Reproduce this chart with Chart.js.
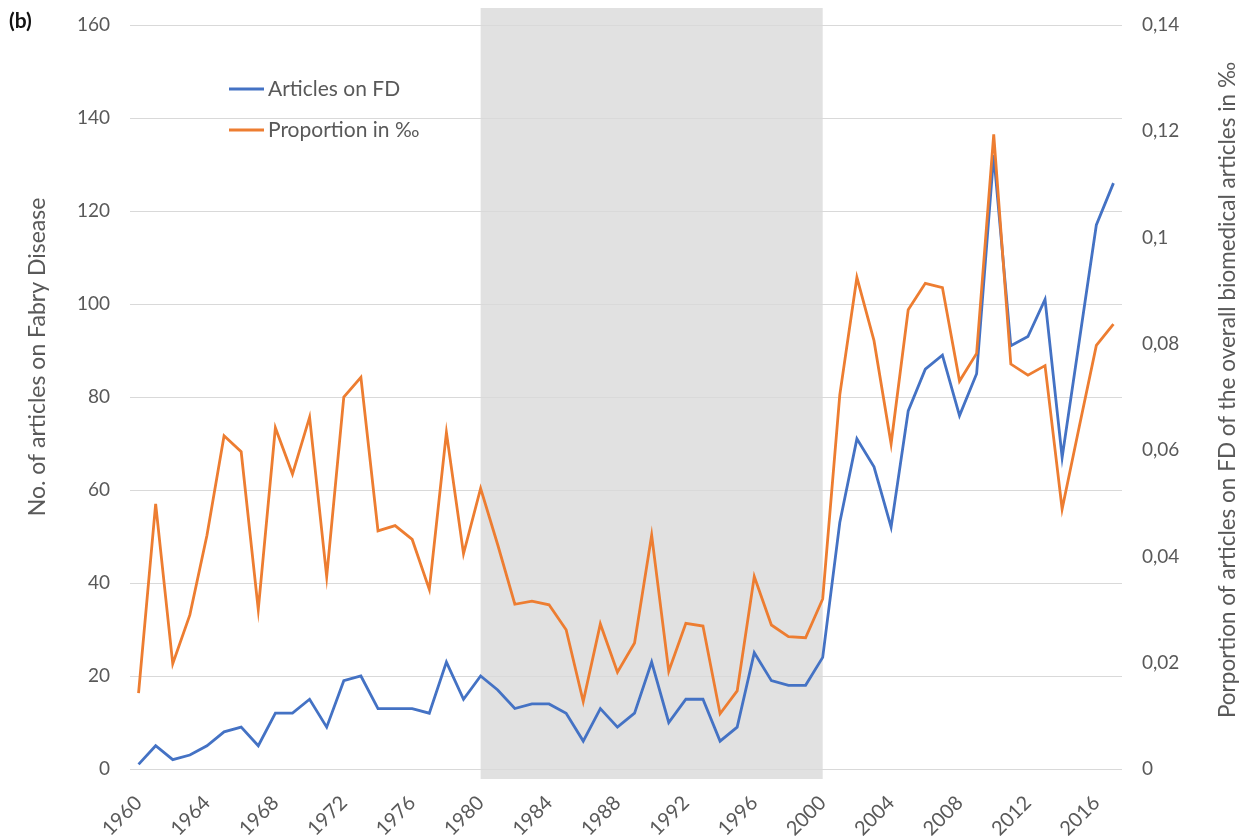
<!DOCTYPE html>
<html>
<head>
<meta charset="utf-8">
<script src="https://cdn.jsdelivr.net/npm/chart.js@4/dist/chart.umd.min.js"></script>
<style>
  body { margin: 0; background: #fff; }
</style>
</head>
<body>
<canvas id="fabryChart" width="1251" height="839"></canvas>
<script>
const years = [
  "1960", "1961", "1962", "1963", "1964", "1965", "1966", "1967", "1968", "1969",
  "1970", "1971", "1972", "1973", "1974", "1975", "1976", "1977", "1978", "1979",
  "1980", "1981", "1982", "1983", "1984", "1985", "1986", "1987", "1988", "1989",
  "1990", "1991", "1992", "1993", "1994", "1995", "1996", "1997", "1998", "1999",
  "2000", "2001", "2002", "2003", "2004", "2005", "2006", "2007", "2008", "2009",
  "2010", "2011", "2012", "2013", "2014", "2015", "2016", "2017",
];
// number of articles on FD per year (left axis)
const articles = [
  1, 5, 2, 3, 5, 8, 9, 5, 12, 12, 15, 9, 19, 20, 13, 13, 13, 12, 23, 15,
  20, 17, 13, 14, 14, 12, 6, 13, 9, 12, 23, 10, 15, 15, 6, 9, 25, 19, 18, 18,
  24, 53, 71, 65, 52, 77, 86, 89, 76, 85, 132, 91, 93, 101, 67, 92, 117, 126,
];
// proportion in per mille (right axis)
const proportion = [
  0.0143, 0.0499, 0.0198, 0.029, 0.044, 0.0627, 0.0597, 0.03, 0.0642, 0.0555,
  0.0662, 0.0362, 0.07, 0.0737, 0.0448, 0.0458, 0.0432, 0.0338, 0.0633, 0.0405,
  0.0528, 0.0422, 0.031, 0.0316, 0.0309, 0.0262, 0.0127, 0.0273, 0.0182, 0.0237,
  0.044, 0.0184, 0.0274, 0.0269, 0.0104, 0.0147, 0.0362, 0.0271, 0.0249, 0.0247,
  0.032, 0.0704, 0.0925, 0.0806, 0.0612, 0.0864, 0.0914, 0.0906, 0.073, 0.0782,
  0.1194, 0.0762, 0.0741, 0.0759, 0.0489, 0.0644, 0.0797, 0.0837,
];
const shadeFrom = "1980";
const shadeTo = "2000";
const leftTitle = "No. of articles on Fabry Disease";
const rightTitle = "Porportion of articles on FD of the overall biomedical articles in \u2030";

const FONT = "Lato, 'Open Sans', sans-serif";
const TEXT = "#595959";

// grey band behind the lines, 1980-2000
const shadePlugin = {
  id: "shade",
  beforeDraw(chart) {
    const { ctx, chartArea, scales } = chart;
    const x0 = scales.x.getPixelForValue(years.indexOf(shadeFrom));
    const x1 = scales.x.getPixelForValue(years.indexOf(shadeTo));
    ctx.save();
    ctx.fillStyle = "#e1e1e1";
    ctx.fillRect(x0, chartArea.top - 17, x1 - x0, chartArea.bottom - chartArea.top + 27);
    ctx.restore();
  },
};

// legend inside the plot, axis titles (bottom-to-top) and panel letter
const extrasPlugin = {
  id: "extras",
  afterDraw(chart) {
    const { ctx } = chart;
    ctx.save();
    // legend
    ctx.font = "21px " + FONT;
    ctx.textBaseline = "middle";
    chart.data.datasets.forEach(function (ds, i) {
      const y = 89 + i * 41;
      ctx.strokeStyle = ds.borderColor;
      ctx.lineWidth = 3;
      ctx.beginPath();
      ctx.moveTo(229, y);
      ctx.lineTo(264, y);
      ctx.stroke();
      ctx.fillStyle = TEXT;
      ctx.textAlign = "left";
      ctx.fillText(ds.label, 268, y);
    });
    ctx.restore();

    // axis titles
    ctx.save();
    ctx.fillStyle = TEXT;
    ctx.textAlign = "center";
    ctx.textBaseline = "middle";
    ctx.font = "23px " + FONT;
    ctx.translate(38, 357);
    ctx.rotate(-Math.PI / 2);
    ctx.fillText(leftTitle, 0, 0);
    ctx.restore();

    ctx.save();
    ctx.fillStyle = TEXT;
    ctx.textAlign = "center";
    ctx.textBaseline = "middle";
    ctx.font = "22.5px " + FONT;
    ctx.translate(1228, 390);
    ctx.rotate(-Math.PI / 2);
    ctx.fillText(rightTitle, 0, 0);
    ctx.restore();

    // panel letter
    ctx.save();
    ctx.font = "bold 21px " + FONT;
    ctx.fillStyle = "#111";
    ctx.textAlign = "left";
    ctx.textBaseline = "middle";
    ctx.fillText("(b)", 9, 21);
    ctx.restore();
  },
};

const ctx = document.querySelector("#fabryChart").getContext("2d");
const myChart = new Chart(ctx, {
  type: "line",
  data: {
    labels: years,
    datasets: [
      {
        label: "Articles on FD",
        data: articles,
        yAxisID: "y",
        borderColor: "#4472C4",
        backgroundColor: "#4472C4",
        borderWidth: 2.8,
        pointRadius: 0,
        tension: 0,
        order: 1,
      },
      {
        label: "Proportion in \u2030",
        data: proportion,
        yAxisID: "y1",
        borderColor: "#ED7D31",
        backgroundColor: "#ED7D31",
        borderWidth: 2.8,
        pointRadius: 0,
        tension: 0,
        order: 0,
      },
    ],
  },
  options: {
    responsive: false,
    animation: false,
    layout: { padding: { top: 25, left: 0, right: 0, bottom: 0 } },
    plugins: {
      legend: { display: false },
      tooltip: { enabled: false },
    },
    scales: {
      x: {
        offset: true,
        grid: { display: false },
        border: { display: false },
        afterFit: function (scale) {
          scale.height = 70;
          scale.paddingLeft = 0;
          scale.paddingRight = 0;
        },
        ticks: {
          autoSkip: false,
          maxRotation: 45,
          minRotation: 45,
          padding: 14,
          color: TEXT,
          font: { family: FONT, size: 20 },
          callback: function (val, idx) {
            return idx % 4 === 0 ? years[idx] : "";
          },
        },
      },
      y: {
        position: "left",
        min: 0,
        max: 160,
        afterFit: function (scale) {
          scale.width = 130;
          scale.paddingTop = 0;
          scale.paddingBottom = 0;
        },
        grid: { color: "#d9d9d9", lineWidth: 1, drawTicks: false },
        border: { display: false },
        ticks: {
          stepSize: 20,
          padding: 20,
          color: TEXT,
          font: { family: FONT, size: 19 },
        },
      },
      y1: {
        position: "right",
        min: 0,
        max: 0.14,
        afterFit: function (scale) {
          scale.width = 129;
          scale.paddingTop = 0;
          scale.paddingBottom = 0;
        },
        grid: { drawOnChartArea: false, drawTicks: false },
        border: { display: false },
        ticks: {
          stepSize: 0.02,
          padding: 20,
          color: TEXT,
          font: { family: FONT, size: 19 },
          callback: function (val) {
            return String(Math.round(val * 100) / 100).replace(".", ",");
          },
        },
      },
    },
  },
  plugins: [shadePlugin, extrasPlugin],
});
</script>
</body>
</html>
